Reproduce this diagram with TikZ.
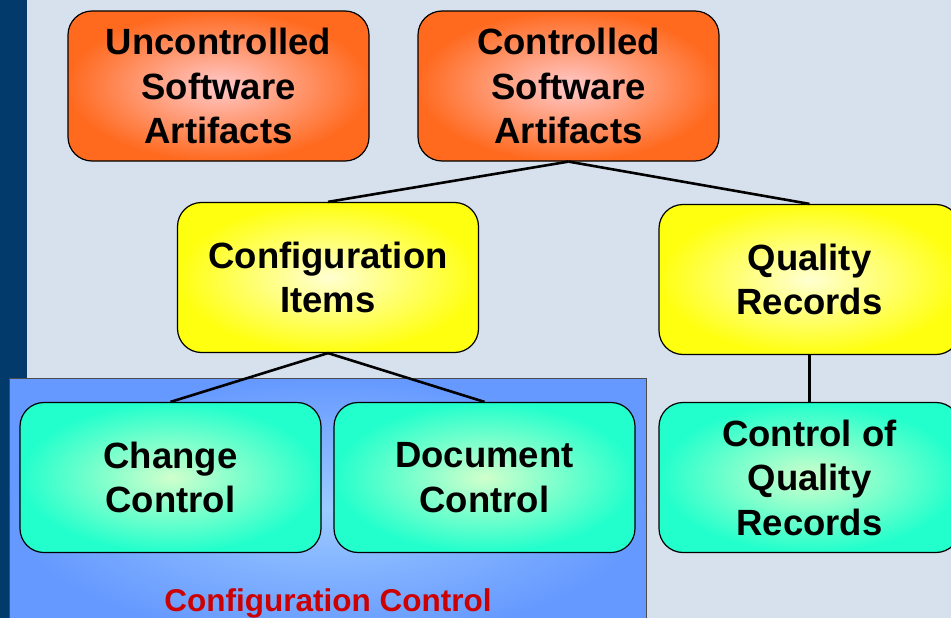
\documentclass[tikz,border=0pt]{standalone}
\usepackage{fontspec}
\setmainfont{Liberation Sans}

\definecolor{bggrey}{HTML}{D6E1ED}
\definecolor{stripnavy}{HTML}{033A6C}
\definecolor{artorange}{HTML}{FF6A1F}
\definecolor{artpink}{HTML}{FFC9C9}
\definecolor{ciyellow}{HTML}{FFFF10}
\definecolor{cipale}{HTML}{FFFFD2}
\definecolor{ctrlteal}{HTML}{22FFCC}
\definecolor{ctrlpale}{HTML}{D0FFCC}
\definecolor{ccblue}{HTML}{6699FF}
\definecolor{ccpale}{HTML}{9CCBFF}
\definecolor{ccred}{HTML}{CC0000}

\begin{document}
\begin{tikzpicture}[x=1pt,y=-1pt,
    box/.style={draw=black, line width=1.2pt, rounded corners=24pt,
        minimum width=301pt, minimum height=150pt, inner sep=0pt,
        align=center, font=\fontsize{36.5}{44.5}\selectfont\bfseries},
    artbox/.style={box, inner color=artpink, outer color=artorange},
    itembox/.style={box, inner color=cipale, outer color=ciyellow},
    ctrlbox/.style={box, inner color=ctrlpale, outer color=ctrlteal},
    link/.style={line width=2.6pt}]

    \useasboundingbox (0,0) rectangle (951,618);

    % Background
    \fill[bggrey] (0,0) rectangle (951,618);
    \fill[stripnavy] (0,0) rectangle (27,618);

    % Configuration control area
    \shade[draw=black!70, line width=1pt, inner color=ccpale, outer color=ccblue]
        (9,378) rectangle (646,640);
    \node[ccred, font=\fontsize{31.5}{36}\selectfont\bfseries] (configctrl) at (328,603) {Configuration Control};

    % Artifacts
    \node[artbox] (uncontrolled) at (218.5,86) {Uncontrolled\\Software\\Artifacts};
    \node[artbox] (controlled) at (568.5,86) {Controlled\\Software\\Artifacts};

    % Items and records
    \node[itembox] (configitems) at (328,277.5) {Configuration\\Items};
    \node[itembox] (quality) at (809.5,279.5) {Quality\\Records};

    % Controls
    \node[ctrlbox] (changectrl) at (170.5,477.5) {Change\\Control};
    \node[ctrlbox] (docctrl) at (484.5,477.5) {Document\\Control};
    \node[ctrlbox] (qualityctrl) at (809.5,477.5) {Control of\\Quality\\Records};

    % Lines
    \draw[link] (controlled.south) -- (configitems.north);
    \draw[link] (controlled.south) -- (quality.north);
    \draw[link] (configitems.south) -- (changectrl.north);
    \draw[link] (configitems.south) -- (docctrl.north);
    \draw[link] (quality.south) -- (qualityctrl.north);

\end{tikzpicture}
\end{document}
